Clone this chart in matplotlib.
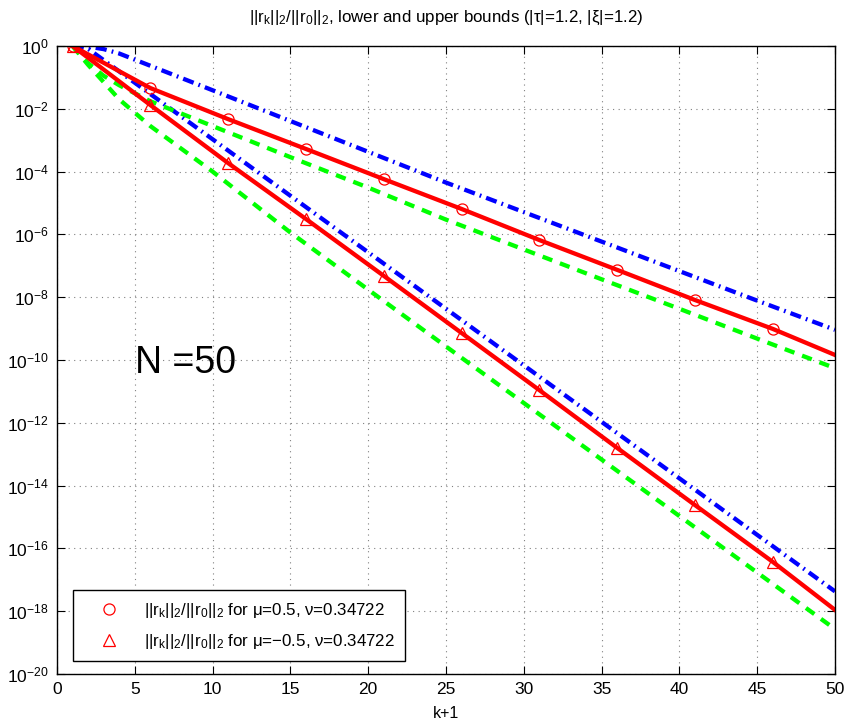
import matplotlib
matplotlib.use("Agg")
import matplotlib.pyplot as plt
from matplotlib.lines import Line2D
from matplotlib.ticker import FixedLocator, FuncFormatter, NullLocator
import numpy as np

plt.rcParams['font.family'] = ['Liberation Sans', 'DejaVu Sans']
plt.rcParams['mathtext.fontset'] = 'custom'
plt.rcParams['mathtext.rm'] = 'Liberation Sans'
plt.rcParams['mathtext.it'] = 'Liberation Sans'
plt.rcParams['mathtext.default'] = 'regular'

# ---- data (values given as -log10 of the ratio, i.e. decades below 1) ----
k_red = [1, 6, 11, 16, 21, 26, 31, 36, 41, 46, 50]
dec_red_mu_pos = [0, 1.34, 2.33, 3.28, 4.24, 5.19, 6.18, 7.13, 8.09, 9.01, 9.84]
dec_red_mu_neg = [0, 1.88, 3.73, 5.51, 7.32, 9.14, 10.96, 12.80, 14.62, 16.43, 17.96]

k_bnd = [1, 2, 3, 4, 6, 10, 15, 20, 25, 30, 35, 40, 45, 50]
dec_upper_mu_pos = [0, 0.02, 0.10, 0.24, 0.63, 1.41, 2.39, 3.37, 4.35, 5.29, 6.23, 7.17, 8.11, 9.04]
dec_lower_mu_pos = [0, 0.55, 0.95, 1.25, 1.76, 2.55, 3.54, 4.51, 5.53, 6.48, 7.43, 8.37, 9.32, 10.26]
dec_upper_mu_neg = [0, 0.09, 0.45, 0.81, 1.53, 2.97, 4.77, 6.57, 8.37, 10.17, 11.97, 13.77, 15.57, 17.37]
dec_lower_mu_neg = [0, 0.60, 1.15, 1.70, 2.55, 4.00, 5.94, 7.76, 9.57, 11.37, 13.17, 14.97, 16.77, 18.57]

legend_labels = [r'$||r_k||_2/||r_0||_2$ for μ=0.5, ν=0.34722',
                 r'$||r_k||_2/||r_0||_2$ for μ=−0.5, ν=0.34722']
title_text = r'$||r_k||_2/||r_0||_2$, lower and upper bounds (|τ|=1.2, |ξ|=1.2)'
xticks = [0, 5, 10, 15, 20, 25, 30, 35, 40, 45, 50]
yexp = [0, -2, -4, -6, -8, -10, -12, -14, -16, -18, -20]

def val(d):
    return 10.0 ** (-np.asarray(d, dtype=float))

fig = plt.figure(figsize=(8.49, 7.24), dpi=100)
ax = fig.add_axes([0.0671, 0.0691, 0.9164, 0.8674])

lw = 3.1
dashdot = (0, (2.6, 1.2, 0.4, 1.2))
dashed = (0, (2.4, 1.9))

ax.plot(k_bnd, val(dec_upper_mu_pos), color=(0, 0, 1), lw=lw, linestyle=dashdot)
ax.plot(k_bnd, val(dec_upper_mu_neg), color=(0, 0, 1), lw=lw, linestyle=dashdot)
ax.plot(k_bnd, val(dec_lower_mu_pos), color=(0, 1, 0), lw=lw, linestyle=dashed)
ax.plot(k_bnd, val(dec_lower_mu_neg), color=(0, 1, 0), lw=lw, linestyle=dashed)

ax.plot(k_red, val(dec_red_mu_pos), color='red', lw=lw, marker='o', ms=8,
        mfc='none', mec='red', mew=0.9, markevery=slice(0, 10))
ax.plot(k_red, val(dec_red_mu_neg), color='red', lw=lw, marker='^', ms=9,
        mfc='none', mec='red', mew=0.9, markevery=slice(0, 10))

ax.set_yscale('log')
ax.set_xlim(0, 50)
ax.set_ylim(1e-20, 1e0)
ax.xaxis.set_major_locator(FixedLocator(xticks))
ax.yaxis.set_major_locator(FixedLocator([10.0 ** e for e in yexp]))
ax.yaxis.set_minor_locator(NullLocator())
ax.xaxis.set_minor_locator(NullLocator())
ax.yaxis.set_major_formatter(FuncFormatter(lambda v, p: r'$10^{%d}$' % int(round(np.log10(v)))))
ax.tick_params(direction='in', length=6, width=0.8, top=True, right=True,
               labelsize=12.5, pad=6)
ax.grid(True, which='major', color=(0.5, 0.5, 0.5), linestyle=(0, (1, 4)), lw=0.8)
for s in ax.spines.values():
    s.set_linewidth(1.0)

ax.set_xlabel('k+1', fontsize=11.5, labelpad=6)
ax.set_title(title_text, fontsize=12.2, pad=17)

ax.text(5.0, 10 ** (-10.41), 'N =50', fontsize=27, ha='left', va='baseline')

handles = [Line2D([], [], linestyle='none', marker='o', ms=8, mfc='none', mec='red', mew=0.9),
           Line2D([], [], linestyle='none', marker='^', ms=9, mfc='none', mec='red', mew=0.9)]
leg = ax.legend(handles, legend_labels, loc='lower left', bbox_to_anchor=(0.02, 0.02),
                borderaxespad=0, fontsize=12.2, frameon=True, fancybox=False,
                edgecolor='black', framealpha=1, borderpad=0.6, handlelength=3.1,
                handletextpad=0.5, labelspacing=0.75)
leg.get_frame().set_linewidth(1.0)

fig.savefig('out.png', dpi=100)
